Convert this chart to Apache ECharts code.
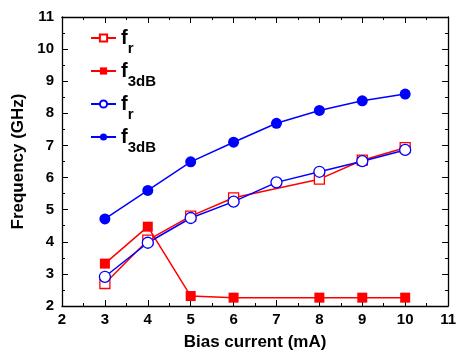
<!DOCTYPE html>
<html>
<head>
<meta charset="utf-8">
<script src="https://cdn.jsdelivr.net/npm/echarts@6/dist/echarts.min.js"></script>
<style>
  html, body { margin: 0; padding: 0; background: #fff; }
  #chart { width: 459px; height: 356px; }
</style>
</head>
<body>
<div id="chart"></div>
<script>
// bias current (mA)
const redX = [3, 4, 5, 6, 8, 9, 10];
const blueX = [3, 4, 5, 6, 7, 8, 9, 10];
// frequencies (GHz)
const redFr = [2.7, 4.05, 4.8, 5.37, 5.95, 6.54, 6.93];
const redF3dB = [3.32, 4.47, 2.31, 2.26, 2.26, 2.26, 2.26];
const blueFr = [2.91, 3.97, 4.74, 5.25, 5.85, 6.18, 6.51, 6.86];
const blueF3dB = [4.71, 5.6, 6.49, 7.1, 7.69, 8.09, 8.39, 8.6];
const legendNames = ['fr red', 'f3dB red', 'fr blue', 'f3dB blue'];

const pairs = (xs, ys) => xs.map((x, i) => [x, ys[i]]);
const font = 'Liberation Sans, Arial, sans-serif';

const chart = echarts.init(document.getElementById('chart'));

function mk(name, xs, ys, color, symbol, filled) {
  return {
    name: name,
    type: 'line',
    data: pairs(xs, ys),
    symbol: symbol,
    symbolSize: symbol === 'rect' ? 10 : 11,
    showAllSymbol: true,
    lineStyle: { color: color, width: 1.5 },
    itemStyle: {
      color: filled ? color : '#fff',
      borderColor: color,
      borderWidth: filled ? 0 : 1.3
    },
    z: 3
  };
}

const axisCommon = {
  min: 2, max: 11, interval: 1,
  axisLine: { show: true, onZero: false, lineStyle: { color: '#000', width: 1.3 } },
  axisTick: { show: true, inside: true, length: 6, lineStyle: { color: '#000', width: 1 } },
  minorTick: { show: true, splitNumber: 2, length: 3, lineStyle: { color: '#000' } },
  splitLine: { show: false }
};
const labelStyle = { color: '#000', fontSize: 15, fontWeight: 'bold', fontFamily: font };

const option = {
  backgroundColor: '#fff',
  animation: false,
  grid: { left: 62, right: 7, top: 17, bottom: 50 },
  legend: {
    left: 85,
    top: 23,
    orient: 'vertical',
    itemWidth: 25,
    itemHeight: 9,
    itemGap: 5,
    data: legendNames,
    formatter: function (name) {
      return name.indexOf('fr') === 0 ? '{f|f}{s|r}' : '{f|f}{s|3dB}';
    },
    textStyle: {
      rich: {
        f: { fontSize: 20, fontWeight: 'bold', fontFamily: font, color: '#000', verticalAlign: 'bottom', lineHeight: 20 },
        s: { fontSize: 15, fontWeight: 'bold', fontFamily: font, color: '#000', verticalAlign: 'bottom', lineHeight: 20, padding: [0, 0, -8, 0] }
      }
    }
  },
  xAxis: [
    Object.assign({}, axisCommon, {
      type: 'value', position: 'bottom',
      name: 'Bias current (mA)', nameLocation: 'middle', nameGap: 28,
      nameTextStyle: { color: '#000', fontSize: 17, fontWeight: 'bold', fontFamily: font },
      axisLabel: Object.assign({ margin: 6 }, labelStyle)
    }),
    Object.assign({}, axisCommon, {
      type: 'value', position: 'top',
      axisLabel: { show: false }
    })
  ],
  yAxis: [
    Object.assign({}, axisCommon, {
      type: 'value', position: 'left',
      name: 'Frequency (GHz)', nameLocation: 'middle', nameGap: 31, nameRotate: 90,
      nameTextStyle: { color: '#000', fontSize: 17, fontWeight: 'bold', fontFamily: font },
      axisLabel: Object.assign({ margin: 8 }, labelStyle)
    }),
    Object.assign({}, axisCommon, {
      type: 'value', position: 'right',
      axisLabel: { show: false }
    })
  ],
  series: [
    mk(legendNames[0], redX, redFr, '#ff0000', 'rect', false),
    mk(legendNames[1], redX, redF3dB, '#ff0000', 'rect', true),
    mk(legendNames[2], blueX, blueFr, '#0000ff', 'circle', false),
    mk(legendNames[3], blueX, blueF3dB, '#0000ff', 'circle', true)
  ]
};

chart.setOption(option);
</script>
</body>
</html>
